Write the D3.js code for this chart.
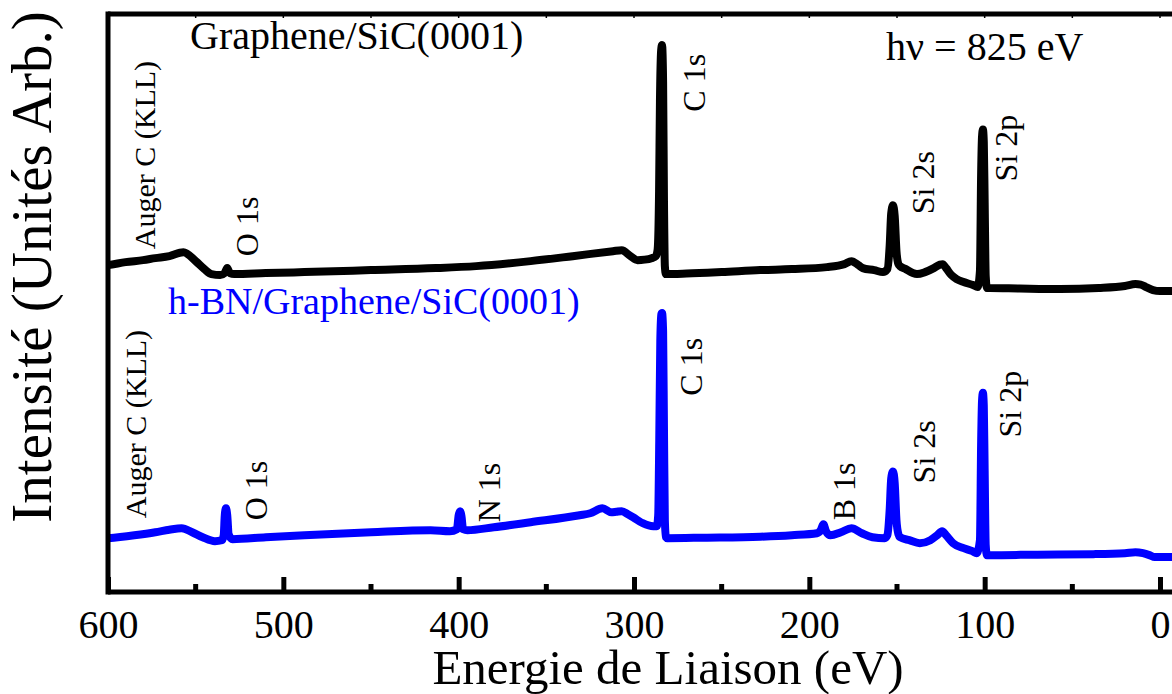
<!DOCTYPE html>
<html>
<head>
<meta charset="utf-8">
<script src="https://cdn.jsdelivr.net/npm/d3@7"></script>
<style>
  html, body { margin: 0; padding: 0; background: #fff; }
  svg { display: block; font-family: "Liberation Serif", "Times New Roman", serif; }
</style>
</head>
<body>
<svg id="chart" width="1172" height="694"></svg>
<script>
// ---------------- DATA ----------------
// Binding energy (eV) and intensity (arb. units) for Graphene/SiC(0001)
const grapheneEnergy = [607, 600, 590, 580, 573, 565, 557, 550, 545, 541, 536, 533.5, 532, 530.5, 528, 510, 488, 450, 413, 390, 359, 335, 312, 307, 302, 298, 294, 290, 287.5, 286.5, 285.7, 285.2, 284.5, 284.0, 283.4, 282.9, 282.4, 281.8, 270, 250, 228, 210, 190, 180, 176, 172, 169.5, 163, 158, 155.5, 154.2, 153.3, 152.3, 151.3, 150.3, 149.2, 148.3, 145, 141, 138.6, 134, 129, 125.5, 124, 122, 119, 116, 112, 106.6, 104, 102.7, 102.0, 101.5, 101.0, 100.5, 100.0, 99.4, 98.7, 97, 80, 57, 35, 20, 14, 11, 8, 4, 0, -7];
const grapheneIntensity = [32.7, 32.8, 33.1, 33.3, 33.5, 33.7, 34.1, 33.2, 32.4, 31.9, 31.8, 32.0, 32.5, 32.0, 31.9, 32.0, 32.1, 32.3, 32.5, 32.7, 33.2, 33.7, 34.2, 34.3, 33.7, 33.3, 33.35, 33.5, 33.7, 34.4, 40.2, 49.2, 54.4, 54.9, 51.2, 39.2, 32.7, 31.9, 31.95, 32.1, 32.3, 32.4, 32.6, 32.9, 33.2, 32.8, 32.5, 32.3, 32.1, 32.4, 34.7, 38.0, 38.8, 37.7, 34.2, 32.9, 32.7, 32.4, 32.0, 31.9, 32.1, 32.5, 32.85, 32.9, 32.5, 31.8, 31.4, 31.1, 30.8, 30.6, 32.2, 42.2, 45.7, 46.4, 45.2, 39.2, 31.7, 30.5, 30.5, 30.45, 30.4, 30.5, 30.7, 30.9, 30.85, 30.6, 30.3, 30.2, 30.2];

// Binding energy (eV) and intensity (arb. units) for h-BN/Graphene/SiC(0001)
const hbnEnergy = [607, 600, 585, 573, 565, 558, 552, 546, 539, 535, 534, 533.4, 532.7, 532.0, 531.2, 529, 510, 488, 450, 416, 405, 401, 400, 399.2, 398.4, 397.5, 395, 380, 359, 331, 325, 318, 313, 310, 307, 303.5, 300.5, 295, 289, 287, 286.2, 285.6, 285.0, 284.4, 284.0, 283.4, 282.9, 282.4, 281.8, 281, 260, 228, 210, 195.6, 193.5, 192, 190.5, 188, 182, 176, 170, 164, 157, 155.5, 154.2, 153.3, 152.3, 151.3, 150.3, 149.2, 148.3, 143, 137, 131, 127, 124.3, 122, 118, 112, 107, 104.5, 102.7, 102.0, 101.5, 101.0, 100.5, 100.0, 99.4, 98.7, 97, 70, 38, 20, 14, 9.7, 6, 3, -7];
const hbnIntensity = [5.3, 5.4, 5.7, 6.0, 6.25, 6.4, 6.0, 5.5, 5.1, 5.2, 5.7, 7.7, 8.4, 7.7, 5.8, 5.3, 5.5, 5.7, 6.0, 6.2, 6.1, 6.3, 7.7, 8.1, 7.6, 6.3, 6.2, 6.5, 7.0, 7.7, 7.9, 8.4, 8.0, 8.05, 8.1, 7.8, 7.5, 6.9, 6.6, 6.6, 7.7, 15.2, 25.2, 27.9, 28.0, 26.2, 16.2, 7.2, 5.5, 5.4, 5.45, 5.55, 5.7, 5.9, 6.2, 6.8, 6.1, 5.7, 6.0, 6.4, 5.9, 5.5, 5.4, 5.7, 8.2, 11.4, 12.1, 10.9, 7.2, 5.8, 5.5, 5.2, 4.9, 5.2, 5.7, 6.1, 5.7, 4.9, 4.4, 4.1, 3.9, 5.2, 15.2, 19.2, 20.0, 18.7, 12.2, 4.7, 3.7, 3.7, 3.75, 3.8, 3.9, 4.0, 3.9, 3.7, 3.5, 3.5];

// Peak annotations: label, energy (eV), intensity (arb. units) of the label's start
const grapheneLabels = ["Auger C (KLL)", "O 1s", "C 1s", "Si 2s", "Si 2p"];
const grapheneLabelEnergy = [573.2, 514.4, 259.5, 128.9, 81.6];
const grapheneLabelIntensity = [34.4, 33.7, 48.2, 37.9, 41.2];

const hbnLabels = ["Auger C (KLL)", "O 1s", "N 1s", "C 1s", "B 1s", "Si 2s", "Si 2p"];
const hbnLabelEnergy = [578.3, 509.3, 376.4, 261.2, 173.9, 128.3, 79.3];
const hbnLabelIntensity = [7.4, 7.2, 7.0, 19.7, 7.2, 10.9, 15.5];

// Axis ticks
const majorTicks = [600, 500, 400, 300, 200, 100, 0];
const minorTicks = [550, 450, 350, 250, 150, 50];
const xDomain = [600, 0];
const yDomain = [0, 58];

// Texts
const xTitle = "Energie de Liaison (eV)";
const yTitle = "Intensité (Unités Arb.)";
const grapheneName = "Graphene/SiC(0001)";
const hbnName = "h-BN/Graphene/SiC(0001)";
const photonText = "hν = 825 eV";

// ---------------- CHART ----------------
(function () {
const svg = d3.select("#chart");
const W = 1172, H = 694;
const mLeft = 108, mRight = 1160, mTop = 14, mBottom = 592;

const x = d3.scaleLinear().domain(xDomain).range([mLeft, mRight]);
const y = d3.scaleLinear().domain(yDomain).range([mBottom, mTop]);

svg.append("defs").append("clipPath").attr("id", "plotclip")
  .append("rect").attr("x", mLeft).attr("y", mTop).attr("width", W - mLeft).attr("height", mBottom - mTop);

const line = d3.line()
  .x(d => x(d[0]))
  .y(d => y(d[1]))
  .curve(d3.curveMonotoneX);

const g1 = d3.zip(grapheneEnergy, grapheneIntensity);
const g2 = d3.zip(hbnEnergy, hbnIntensity);

const plot = svg.append("g").attr("clip-path", "url(#plotclip)");
plot.append("path").datum(g1)
  .attr("d", line).attr("fill", "none").attr("stroke", "#000")
  .attr("stroke-width", 8).attr("stroke-linejoin", "round").attr("stroke-linecap", "round");
plot.append("path").datum(g2)
  .attr("d", line).attr("fill", "none").attr("stroke", "#0000ff")
  .attr("stroke-width", 8).attr("stroke-linejoin", "round").attr("stroke-linecap", "round");

// Frame: left, bottom, top
const frame = svg.append("g").attr("stroke", "#000").attr("stroke-width", 5).attr("fill", "none");
frame.append("line").attr("x1", mLeft).attr("x2", mLeft).attr("y1", mTop - 2.5).attr("y2", mBottom + 2.5);
frame.append("line").attr("x1", mLeft).attr("x2", W).attr("y1", mBottom).attr("y2", mBottom);
frame.append("line").attr("x1", mLeft).attr("x2", W).attr("y1", mTop).attr("y2", mTop);

// Bottom axis with inward ticks
const xAxis = d3.axisBottom(x).tickValues(majorTicks).tickFormat(d3.format("d"))
  .tickSizeInner(-15).tickSizeOuter(0).tickPadding(0);
const ax = svg.append("g").attr("transform", `translate(0,${mBottom})`).call(xAxis);
ax.select(".domain").remove();
ax.selectAll(".tick line").attr("stroke", "#000").attr("stroke-width", 5).attr("y2", -15);
ax.selectAll(".tick text").attr("font-size", 40).attr("fill", "#000")
  .attr("y", 46).attr("dy", 0).attr("font-family", "Liberation Serif, serif");

svg.append("g").selectAll("line").data(minorTicks).join("line")
  .attr("x1", d => x(d)).attr("x2", d => x(d))
  .attr("y1", mBottom).attr("y2", mBottom - 8)
  .attr("stroke", "#000").attr("stroke-width", 5);

// tiny top ticks
svg.append("g").selectAll("line").data(majorTicks.concat(minorTicks)).join("line")
  .attr("x1", d => x(d)).attr("x2", d => x(d))
  .attr("y1", mTop).attr("y2", mTop + 4)
  .attr("stroke", "#000").attr("stroke-width", 1.5);

// Axis titles
svg.append("text").attr("x", 668).attr("y", 684)
  .attr("text-anchor", "middle").attr("font-size", 49).attr("fill", "#000").text(xTitle);
svg.append("text").attr("transform", "translate(51,267) rotate(-90)")
  .attr("text-anchor", "middle").attr("font-size", 57).attr("fill", "#000").text(yTitle);

// Series names and photon energy
svg.append("text").attr("x", 190).attr("y", 49).attr("font-size", 40).attr("fill", "#000").text(grapheneName);
svg.append("text").attr("x", 886).attr("y", 60).attr("font-size", 40).attr("fill", "#000").text(photonText);
svg.append("text").attr("x", 168).attr("y", 314).attr("font-size", 38).attr("fill", "#0000ff").text(hbnName);

// Peak labels (rotated)
function peakLabels(names, es, vs) {
  svg.append("g").selectAll("text").data(d3.zip(names, es, vs)).join("text")
    .attr("transform", d => `translate(${x(d[1])},${y(d[2])}) rotate(-90)`)
    .attr("font-size", d => d[0].startsWith("Auger") ? 30 : 32)
    .attr("fill", "#000")
    .text(d => d[0]);
}
peakLabels(grapheneLabels, grapheneLabelEnergy, grapheneLabelIntensity);
peakLabels(hbnLabels, hbnLabelEnergy, hbnLabelIntensity);
})();
</script>
</body>
</html>
